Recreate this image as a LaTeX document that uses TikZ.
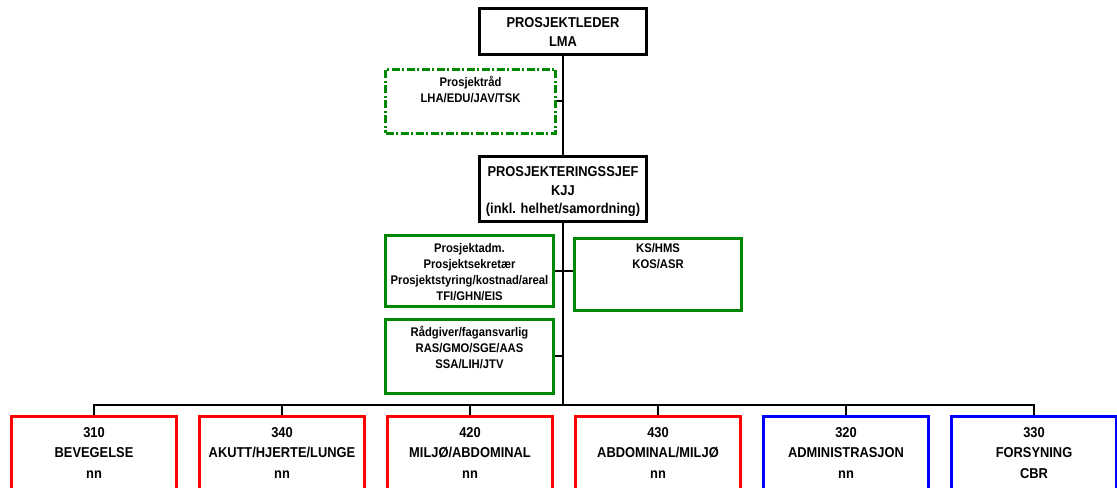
\documentclass[tikz,border=0pt]{standalone}
\usepackage{fontspec}
\setmainfont{Liberation Sans}[FakeStretch=0.9, BoldFont=Liberation Sans Bold, BoldFeatures={FakeStretch=0.9}]
\definecolor{orggreen}{RGB}{0,135,0}
\definecolor{orgred}{RGB}{255,0,0}
\definecolor{orgblue}{RGB}{0,0,255}
\begin{document}
\begin{tikzpicture}[x=1bp,y=-1bp,
  box/.style={draw, line width=3bp, inner sep=0pt, rectangle},
  blackbox/.style={box, draw=black},
  greenbox/.style={box, draw=orggreen},
  dashbox/.style={box, draw=orggreen, dash pattern=on 8bp off 2.5bp on 2bp off 2.5bp},
  redbox/.style={box, draw=orgred, minimum width=165bp, minimum height=113.5bp},
  bluebox/.style={box, draw=orgblue, minimum width=165bp, minimum height=113.5bp},
  bigtext/.style={anchor=base, align=center, inner sep=0pt, font=\bfseries\fontsize{14.3bp}{18.5bp}\selectfont},
  bottext/.style={anchor=base, align=center, inner sep=0pt, font=\bfseries\fontsize{14.3bp}{20.5bp}\selectfont},
  smalltext/.style={anchor=base, align=center, inner sep=0pt, font=\bfseries\fontsize{12.5bp}{16bp}\selectfont},
  conn/.style={draw=black, line width=2bp}
]
\useasboundingbox (0,0) rectangle (1117,488);
\clip (0,0) rectangle (1117,488);
\fill[white] (0,0) rectangle (1117,488);

% boxes
\node[blackbox, minimum width=167bp, minimum height=46bp] (top) at (563,31.5) {};
\node[dashbox, minimum width=170bp, minimum height=64bp] (prad) at (470.5,101.5) {};
\node[blackbox, minimum width=167bp, minimum height=65bp] (sjef) at (563,189) {};
\node[greenbox, minimum width=168bp, minimum height=71bp] (adm) at (469.5,271) {};
\node[greenbox, minimum width=167bp, minimum height=72bp] (ks) at (658,274.5) {};
\node[greenbox, minimum width=168bp, minimum height=74bp] (radg) at (469.5,356.5) {};

\node[redbox] (b310) at (94,473.25) {};
\node[redbox] (b340) at (282,473.25) {};
\node[redbox] (b420) at (470,473.25) {};
\node[redbox] (b430) at (658,473.25) {};
\node[bluebox] (b320) at (846,473.25) {};
\node[bluebox] (b330) at (1034,473.25) {};

% texts (anchor = baseline of the last line)
\node[bigtext] (ttop) at (563,46.5) {PROSJEKTLEDER\\LMA};
\node[smalltext] (tprad) at (470.5,102.5) {Prosjektråd\\LHA/EDU/JAV/TSK};
\node[bigtext] (tsjef) at (563,214) {PROSJEKTERINGSSJEF\\KJJ\\(inkl. helhet/samordning)};
\node[smalltext] (tadm) at (469.5,300.5) {Prosjektadm.\\Prosjektsekretær\\Prosjektstyring/kostnad/areal\\TFI/GHN/EIS};
\node[smalltext] (tks) at (658,268.5) {KS/HMS\\KOS/ASR};
\node[smalltext] (tradg) at (469.5,368.5) {Rådgiver/fagansvarlig\\RAS/GMO/SGE/AAS\\SSA/LIH/JTV};

\node[bottext] (t310) at (94,478) {310\\BEVEGELSE\\nn};
\node[bottext] (t340) at (282,478) {340\\AKUTT/HJERTE/LUNGE\\nn};
\node[bottext] (t420) at (470,478) {420\\MILJØ/ABDOMINAL\\nn};
\node[bottext] (t430) at (658,478) {430\\ABDOMINAL/MILJØ\\nn};
\node[bottext] (t320) at (846,478) {320\\ADMINISTRASJON\\nn};
\node[bottext] (t330) at (1034,478) {330\\FORSYNING\\CBR};

% connectors
\coordinate (bus) at (563,405);
\draw[conn] (top.south) -- (sjef.north);
\draw[conn] (sjef.south) -- (bus);
\draw[conn] (prad.east) -- (prad.east -| top.south);
\draw[conn] (adm.east) -- (adm.east -| ks.west);
\draw[conn] (radg.east) -- (radg.east -| sjef.south);
\draw[conn] (bus) -| (b310.north);
\draw[conn] (bus) -| (b340.north);
\draw[conn] (bus) -| (b420.north);
\draw[conn] (bus) -| (b430.north);
\draw[conn] (bus) -| (b320.north);
\draw[conn] (bus) -| (b330.north);
\end{tikzpicture}
\end{document}
